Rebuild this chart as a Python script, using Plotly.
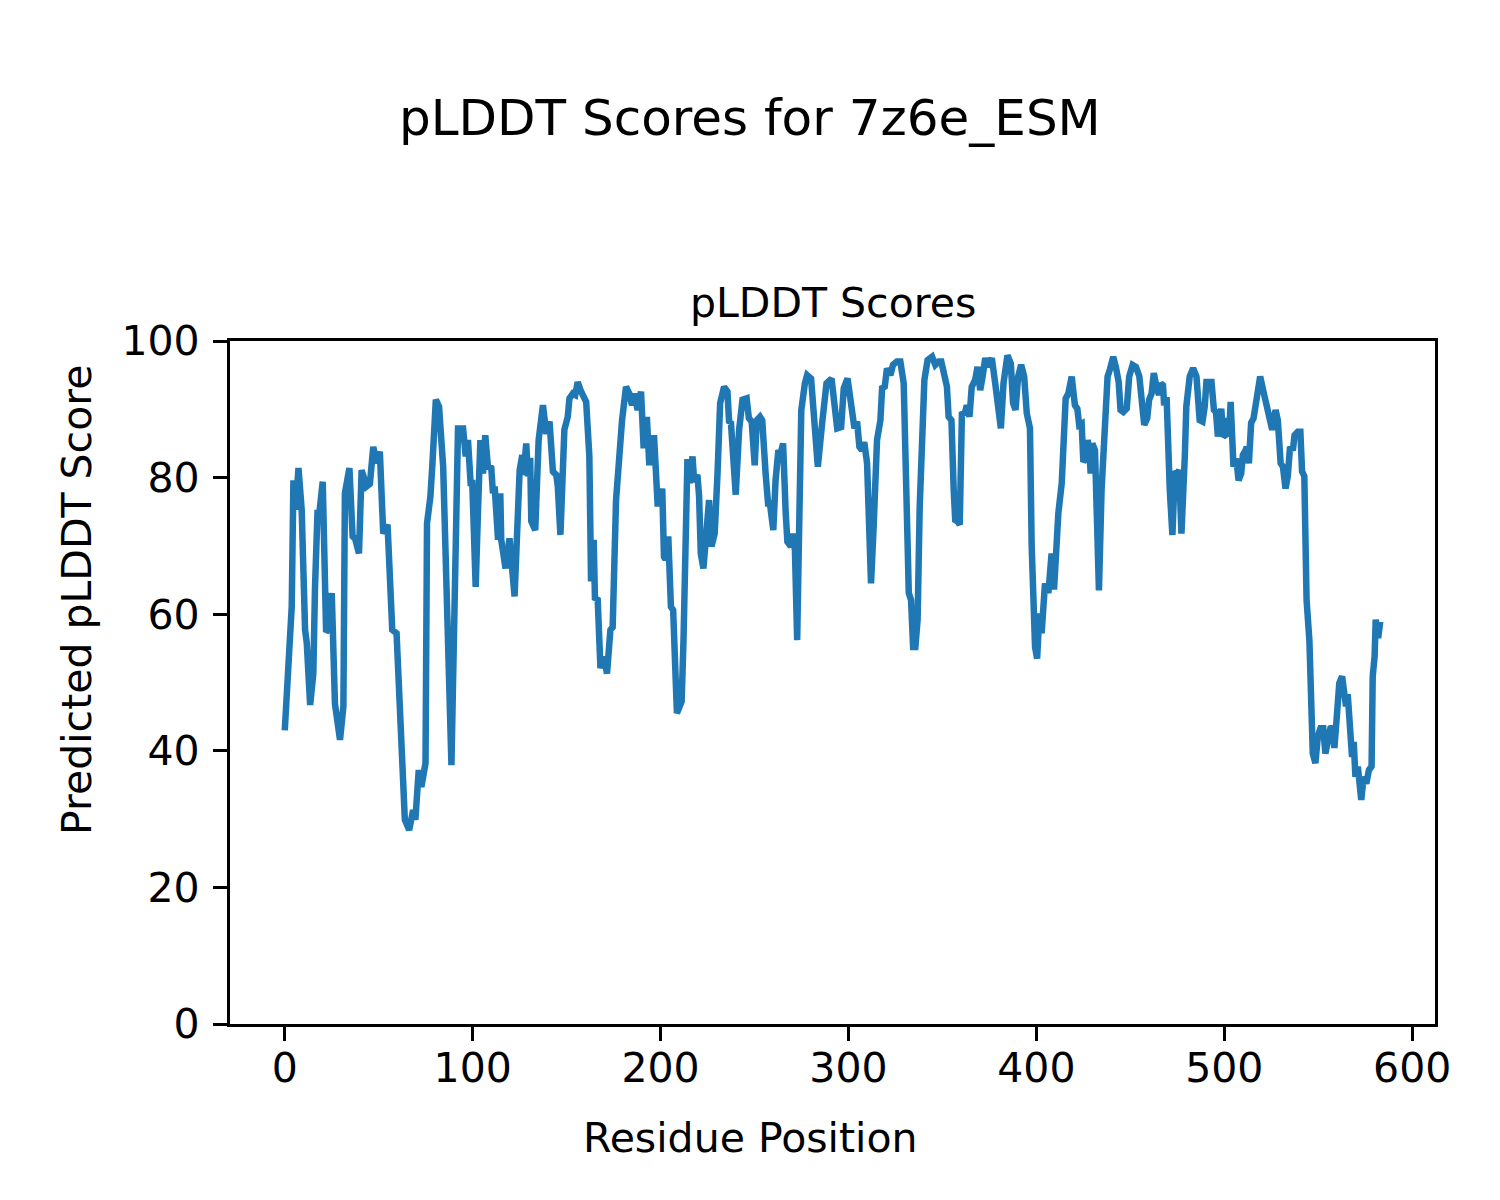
import plotly.graph_objects as go

# Residue positions (key points)
residue = [0, 2, 3.7, 4.6, 5.8, 7.3, 9, 10.8, 11.7, 13.5, 15.2, 16.1, 17.4, 18.4, 20.2, 22, 23.2, 25, 26.7, 29.4,
           31.2, 32, 34.4, 36.1, 37.5, 39.5, 40.9, 43.5, 45.3, 47.1, 48.9, 50.6, 52.4, 54.7, 55.9, 57.2, 59.5, 61.2,
           63.9, 66.2, 68.3, 69.5, 71.3, 72.7, 74.9, 75.7, 77.5, 78.6, 80.4, 82.1, 84.3, 88.7, 92.2, 94.9, 96.3,
           97.5, 98.9, 99.8, 101.6, 102.8, 104.1, 105.5, 106.7, 108.1, 109.9, 110.8, 111.7, 113.5, 114.7, 115.2,
           117.5, 119.6, 122.3, 125, 126.4, 127.1, 128.5, 129.4, 130.6, 131.2, 133.3, 135.1, 137.4, 139.2, 140.9,
           142.7, 144.5, 145.3, 146.7, 148.8, 150.6, 151.5, 153.3, 154.6, 155.9, 157.7, 160.4, 162.1, 163, 164.4,
           165.1, 166.5, 168, 169.8, 171.5, 173.3, 174.5, 176.3, 178.1, 179.5, 181.6, 183.4, 184.8, 186, 187.8,
           189.6, 191, 192.7, 194, 194.9, 195.4, 196.5, 198.4, 199.8, 200.9, 201.8, 202.7, 204.1, 205.5, 206.7,
           208.7, 211.2, 212.2, 213.5, 214.3, 215.6, 217, 217.9, 219.6, 220.5, 221.4, 222.8, 224.4, 225.8, 227.1,
           228.8, 230.3, 231.7, 233.8, 235.6, 236.5, 237.4, 240, 241.8, 243.6, 245.8, 247, 248.5, 250.1, 251.2,
           252.9, 254.1, 255.9, 257.2, 258.2, 260, 261.2, 262.7, 263.9, 265.2, 266.6, 267.5, 269.4, 270.3, 271.5,
           272.7, 274, 274.9, 276.8, 278, 280.1, 281.9, 283.7, 286, 288.3, 291, 294, 296.1, 297.5, 299.5, 301.4,
           303.2, 304.6, 305.8, 307.2, 308.4, 309.9, 312, 313.4, 315.2, 317, 317.9, 319.3, 320.5, 322.3, 323.7,
           325.8, 327.6, 329.4, 330.8, 332.1, 333.3, 334.4, 335.6, 336.8, 337.9, 339.1, 340.4, 342.1, 344.5,
           346.2, 348, 349.4, 351, 352.4, 353.3, 354.8, 356, 356.8, 358.1, 359.2, 360.4, 361.7, 363, 364.4, 365.6,
           367.4, 368.7, 370.1, 371.4, 372.8, 374.2, 376.3, 378.1, 379.9, 381.1, 382.5, 384.6, 386.4, 387.6,
           388.9, 390.3, 391.9, 393.5, 394.9, 396.6, 397.5, 399.3, 400.4, 401.6, 402.8, 404.6, 406.4, 408.1,
           409.4, 411.7, 413.5, 415.6, 417, 418.8, 420.5, 421.8, 422.8, 424.1, 425, 426.4, 427.3, 428.2, 428.9,
           429.8, 431.2, 433.3, 434.7, 436.5, 437.9, 439.1, 440.9, 442.3, 443.8, 444.8, 446.3, 448.1, 449.4,
           451.2, 453, 454.8, 456, 457.4, 459, 460, 461.3, 462.5, 463.9, 465.3, 466.2, 467.4, 468, 469.3, 471,
           472.4, 473.7, 474.9, 476, 477.2, 479, 479.8, 481.6, 483.4, 485.2, 486.9, 488.4, 489.6, 490.5, 493.2,
           494.5, 495.6, 496.6, 498.4, 499.5, 500.5, 501.4, 502.5, 503.4, 504.9, 506.4, 507.6, 509, 509.9,
           511.3, 512, 513.1, 514.3, 515.6, 517, 519.1, 521.1, 523.2, 524.6, 525.5, 527.3, 528.5, 530, 531.2,
           532.6, 533.8, 535, 536.5, 537.4, 539.1, 540.5, 541.4, 542.6, 543.8, 545.3, 547.1, 548.5, 549.8,
           551.2, 552.7, 553.8, 555.1, 556.5, 557.7, 558.6, 559.8, 561.2, 562.7, 563.9, 564.8, 565.7, 566.9,
           568, 568.9, 569.8, 571.1, 572.9, 574.2, 575.6, 577, 578.4, 579, 580, 580.6, 581.9, 583]

plddt = [43.0, 52.3, 61.1, 79.6, 75.3, 81.4, 75.3, 57.7, 55.8, 46.7, 51.3, 64.0, 74.8, 74.8, 79.4, 57.4, 57.7, 63.1, 46.9, 41.6,
         46.5, 77.7, 81.4, 71.4, 71.0, 68.9, 81.1, 78.7, 79.1, 84.5, 82.1, 83.8, 71.8, 73.1, 67.0, 57.7, 57.2, 46.5,
         29.9, 28.4, 31.3, 29.9, 37.2, 34.7, 38.2, 73.3, 77.2, 82.1, 91.4, 90.4, 81.6, 37.9, 87.2, 87.2, 83.1,
         85.5, 79.2, 79.2, 64.0, 74.8, 85.5, 80.6, 86.2, 81.6, 81.4, 77.7, 78.7, 70.9, 77.7, 70.9,
         66.7, 71.1, 62.6, 81.1, 83.3, 80.4, 85.0, 80.2, 82.9, 73.6, 72.3, 85.5, 90.6, 86.4, 88.2,
         80.9, 80.4, 78.7, 71.6, 87.0, 88.9, 91.6, 92.3, 92.1, 94.0, 92.6, 91.1, 83.1, 64.8, 70.9,
         62.1, 62.4, 52.1, 53.8, 51.3, 57.7, 58.1, 76.7, 83.5, 88.4, 93.3, 92.3, 90.6, 92.3, 89.9,
         92.6, 84.3, 88.9, 81.8, 86.0, 81.8, 86.2, 76.2, 76.2, 78.4, 68.4, 68.0, 71.4, 61.1, 60.6,
         45.5, 47.2, 56.2, 80.1, 82.7, 79.2, 83.1, 79.4, 80.4, 77.3, 68.9, 66.7, 71.8, 76.7, 69.9,
         71.8, 80.6, 90.9, 93.3, 92.6, 88.0, 88.2, 77.5, 87.0, 91.4, 91.6, 88.7, 88.2, 81.8, 88.4,
         88.9, 88.4, 80.6, 76.2, 76.2, 72.3, 79.6, 84.0, 83.5, 85.0, 74.8, 70.6, 69.9, 71.8, 69.4,
         56.2, 76.4, 89.9, 93.8, 95.0, 94.5, 88.4, 81.6, 88.0, 93.8, 94.5, 87.2, 87.4, 93.1, 94.5, 91.4,
         87.2, 88.2, 84.5, 84.0, 85.2, 82.1, 64.5, 72.8, 85.5, 88.4, 93.1, 93.3, 96.0, 95.0, 96.5,
         97.0, 97.0, 93.8, 80.6, 63.1, 62.1, 55.2, 55.2, 59.2, 75.7, 85.5, 94.3, 97.2, 97.7,
         96.5, 97.0, 97.0, 94.8, 93.3, 88.9, 88.4, 78.2, 73.8, 73.6, 73.1, 89.6, 89.2, 90.6, 88.9, 93.3,
         94.3, 96.2, 92.8, 94.8, 97.5, 96.2, 97.5, 93.8, 88.4, 87.2, 93.8, 97.9, 96.7, 90.9,
         89.9, 94.8, 96.5, 94.8, 89.4, 87.2, 70.0, 55.2, 53.5, 60.1, 57.2, 64.5, 63.1, 68.9,
         63.6, 74.8, 79.2, 91.6, 92.3, 94.8, 90.6, 90.1, 87.7, 87.9, 82.3, 82.8, 85.5, 84.0, 80.6,
         85.0, 84.0, 63.5, 78.2, 88.9, 94.8, 95.8, 97.7, 96.2, 94.0, 89.9, 89.6, 90.1, 94.8,
         96.5, 96.2, 94.8, 90.9, 87.7, 88.7, 91.4, 92.3, 95.3, 93.3, 92.1, 93.8, 93.5, 90.6, 91.8, 78.2,
         71.6, 80.9, 80.6, 81.1, 71.8, 83.1, 90.4, 94.8, 96.0, 94.8, 88.4, 88.2, 90.4, 94.0, 94.0,
         89.9, 89.6, 86.0, 90.1, 86.0, 86.2, 88.7, 86.0, 91.1, 81.6, 82.8, 79.6, 80.6, 83.3,
         84.0, 84.5, 82.1, 88.0, 88.7, 91.9, 94.8, 92.3, 89.2, 88.4, 87.0, 89.9, 88.4, 82.1, 81.6,
         78.4, 80.2, 84.5, 84.0, 86.2, 86.7, 86.7, 80.9, 80.2, 62.1, 56.2, 39.6, 38.2, 42.1,
         43.3, 43.3, 39.6, 42.1, 43.3, 43.4, 40.4, 44.7, 49.9, 50.9, 47.0, 46.5, 48.3, 40.6,
         39.1, 41.3, 36.2, 37.7, 32.8, 36.2, 35.2, 37.2, 37.7, 50.9, 53.8, 59.2, 56.5, 58.9]

x_ticks = [0, 100, 200, 300, 400, 500, 600]
y_ticks = [0, 20, 40, 60, 80, 100]

suptitle = "pLDDT Scores for 7z6e_ESM"
ax_title = "pLDDT Scores"
x_label = "Residue Position"
y_label = "Predicted pLDDT Score"

FONT = "DejaVu Sans"

fig = go.Figure()
fig.add_trace(go.Scatter(x=residue, y=plddt, mode="lines",
                         line=dict(color="#1f77b4", width=6.5), showlegend=False,
                         hoverinfo="x+y"))

axis_common = dict(showline=True, linecolor="black", linewidth=3.3, mirror=True,
                   ticks="outside", ticklen=14, tickwidth=3.3, tickcolor="black",
                   showgrid=False, zeroline=False,
                   tickfont=dict(family=FONT, size=41, color="black"))

fig.update_xaxes(range=[-29.15, 612.15], tickvals=x_ticks, ticktext=[str(v) for v in x_ticks],
                 ticklabelstandoff=-8, **axis_common)
fig.update_yaxes(range=[0, 100], tickvals=y_ticks, ticktext=[str(v) for v in y_ticks],
                 ticklabelstandoff=5, **axis_common)

# The page body adds an 8 px offset; target plot box in page pixels
OFF = 8
W, H = 1500, 1200
L, R, T, B = 230, 1435, 341, 1024
pw, ph = R - L, B - T


def px(xp):
    return (xp - L) / pw


def py(yp):
    return (B - yp) / ph


annotations = [
    dict(text=suptitle, x=px(750), y=py(118), font=dict(size=50)),
    dict(text=ax_title, x=px(832.5), y=py(303), font=dict(size=41)),
    dict(text=x_label, x=px(750), y=py(1138), font=dict(size=41)),
    dict(text=y_label, x=px(77), y=py(600), font=dict(size=41), textangle=-90),
]
for a in annotations:
    a.update(xref="paper", yref="paper", showarrow=False, xanchor="center", yanchor="middle")
    a["font"].update(family=FONT, color="black")

fig.update_layout(width=W, height=H,
                  margin=dict(l=L - OFF, r=W + OFF - R, t=T - OFF, b=H + OFF - B, pad=0),
                  paper_bgcolor="white", plot_bgcolor="white",
                  annotations=annotations, font=dict(family=FONT, color="black"))

fig.write_html("out.html")
